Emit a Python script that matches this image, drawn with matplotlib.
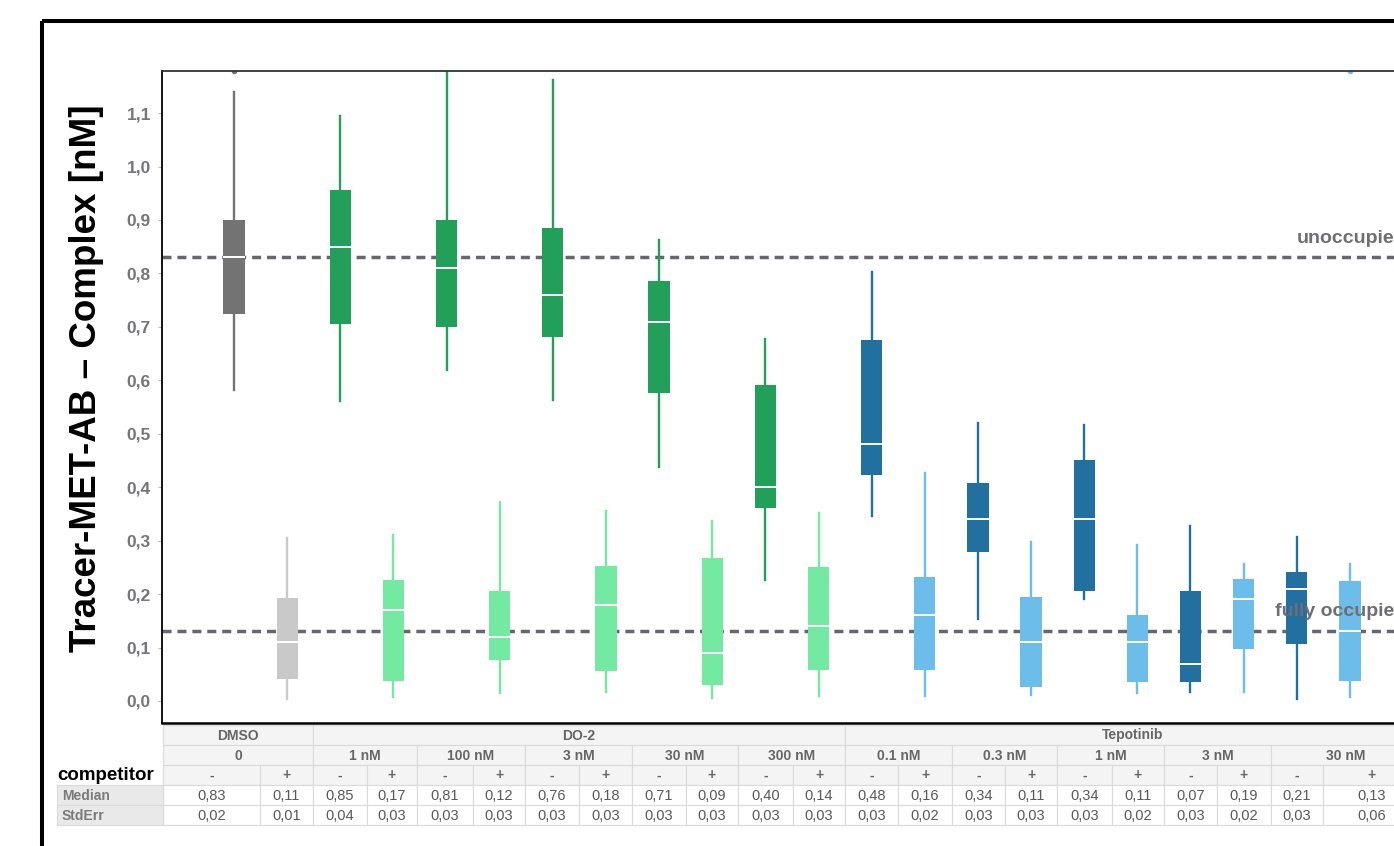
import matplotlib.pyplot as plt
from matplotlib.patches import Rectangle

plt.rcParams['font.family'] = ['Liberation Sans', 'DejaVu Sans']

# table header data
compounds = ['DMSO', 'DO-2', 'Tepotinib']
compound_cols = [2, 10, 10]
concentrations = ['0', '1 nM', '100 nM', '3 nM', '30 nM', '300 nM',
                  '0.1 nM', '0.3 nM', '1 nM', '3 nM', '30 nM']
competitor = ['-', '+'] * 11

# box statistics per condition (nM), '-' / '+' competitor alternating
whisker_low = [0.582, 0.004, 0.561, 0.007, 0.619, 0.015, 0.563, 0.017, 0.438, 0.006, 0.226, 0.009,
               0.346, 0.009, 0.153, 0.011, 0.191, 0.015, 0.017, 0.017, 0.004, 0.007]
q1 = [0.724, 0.041, 0.705, 0.037, 0.700, 0.077, 0.681, 0.056, 0.576, 0.030, 0.361, 0.058,
      0.423, 0.058, 0.279, 0.026, 0.206, 0.036, 0.036, 0.097, 0.107, 0.037]
median = [0.83, 0.11, 0.85, 0.17, 0.81, 0.12, 0.76, 0.18, 0.71, 0.09, 0.40, 0.14,
          0.48, 0.16, 0.34, 0.11, 0.34, 0.11, 0.07, 0.19, 0.21, 0.13]
q3 = [0.900, 0.193, 0.956, 0.226, 0.900, 0.206, 0.885, 0.253, 0.786, 0.268, 0.591, 0.251,
      0.675, 0.232, 0.408, 0.195, 0.451, 0.161, 0.206, 0.228, 0.241, 0.225]
whisker_high = [1.139, 0.305, 1.094, 0.311, 1.195, 0.372, 1.162, 0.355, 0.862, 0.337, 0.677, 0.352,
                0.803, 0.427, 0.520, 0.297, 0.516, 0.292, 0.327, 0.256, 0.307, 0.256]
outliers = {0: [1.178], 21: [1.178]}
stderr = [0.02, 0.01, 0.04, 0.03, 0.03, 0.03, 0.03, 0.03, 0.03, 0.03, 0.03, 0.03,
          0.03, 0.02, 0.03, 0.03, 0.03, 0.02, 0.03, 0.02, 0.03, 0.06]

unoccupied = 0.83
fully_occupied = 0.13

palette = {'DMSO': ('#737373', '#c9c9c9'),
           'DO-2': ('#22a05a', '#73e9a2'),
           'Tepotinib': ('#22709f', '#6dbdeb')}
colors = []
for name, n in zip(compounds, compound_cols):
    for k in range(n):
        colors.append(palette[name][k % 2])

W, H = 1394, 846
fig = plt.figure(figsize=(W / 100, H / 100), dpi=100)

def px(x0, y0, x1, y1):
    return [x0 / W, 1 - y1 / H, (x1 - x0) / W, (y1 - y0) / H]

ax = fig.add_axes(px(162, 71, 1394, 723))

stats = []
for i in range(len(median)):
    stats.append(dict(whislo=whisker_low[i], q1=q1[i], med=median[i], q3=q3[i],
                      whishi=whisker_high[i], fliers=outliers.get(i, [])))
bp = ax.bxp(stats, positions=range(len(stats)), widths=0.4, patch_artist=True,
            showcaps=False, manage_ticks=False,
            boxprops=dict(linewidth=0),
            medianprops=dict(color='white', linewidth=1.4),
            whiskerprops=dict(linewidth=1.7),
            flierprops=dict(marker='o', markersize=4, markeredgewidth=0))
for i, c in enumerate(colors):
    bp['boxes'][i].set_facecolor(c)
    bp['boxes'][i].set_zorder(3)
    bp['medians'][i].set_zorder(4)
    for w in bp['whiskers'][2 * i:2 * i + 2]:
        w.set_color(c)
        w.set_zorder(2)
    bp['fliers'][i].set_markerfacecolor(c)

for yv in (unoccupied, fully_occupied):
    ax.axhline(yv, color='#66666e', lw=2.5, ls=(0, (2.6, 1.7)), zorder=1)
ax.text(20.0, 0.866, 'unoccupied', color='#6e6e73', fontsize=14, fontweight='bold',
        va='center', ha='left', zorder=6)
ax.text(19.59, 0.1665, 'fully occupied', color='#6e6e73', fontsize=14, fontweight='bold',
        va='center', ha='left', zorder=6)

ax.set_xlim(-1.355, 21.83)
ax.set_ylim(-0.0412, 1.1787)
ax.set_xticks([])
yt = [i / 10 for i in range(12)]
ax.set_yticks(yt)
ax.set_yticklabels([f'{v:.1f}'.replace('.', ',') for v in yt],
                   fontsize=12.5, fontweight='bold', color='#75757a')
ax.tick_params(axis='y', length=3, width=0.8, color='#bbbbbb', pad=5)
ax.spines['right'].set_visible(False)
ax.spines['top'].set_color('#333333')
ax.spines['top'].set_linewidth(1.3)
ax.spines['left'].set_linewidth(1.3)
ax.spines['bottom'].set_linewidth(1.8)

fig.text(87 / W, 1 - 378 / H, 'Tracer-MET-AB \u2013 Complex [nM]', rotation=90,
         fontsize=26.5, fontweight='bold', ha='center', va='center')

# overlay in pixel units: outer frame and the summary table
ov = fig.add_axes([0, 0, 1, 1])
ov.set_xlim(0, W)
ov.set_ylim(H, 0)
ov.axis('off')
ov.add_patch(Rectangle((42, 21.5), 1500, 900, fill=False, lw=2.9, ec='black'))

edges = [163, 260, 313, 367, 417, 473, 525, 579, 632, 686, 738, 793, 845, 898,
         952, 1005, 1057, 1112, 1164, 1217, 1271, 1323, 1421]
rows = [725, 745, 765, 785, 805, 825]
grid = '#dadada'
hdr_bg = '#f4f4f4'

def cell(x0, x1, y0, y1, text, bg, color='#666666', size=10.5, weight='normal'):
    ov.add_patch(Rectangle((x0, y0), x1 - x0, y1 - y0, fc=bg, ec=grid, lw=0.8))
    ov.text((x0 + x1) / 2, (y0 + y1) / 2 + 0.5, text, ha='center', va='center',
            fontsize=size, color=color, fontweight=weight)

c = 0
for name, n in zip(compounds, compound_cols):
    cell(edges[c], edges[c + n], rows[0], rows[1], name, hdr_bg, weight='bold', size=10)
    c += n
for j, conc in enumerate(concentrations):
    cell(edges[2 * j], edges[2 * j + 2], rows[1], rows[2], conc, hdr_bg, weight='bold', size=10)
for j, s in enumerate(competitor):
    cell(edges[j], edges[j + 1], rows[2], rows[3], s, hdr_bg, weight='bold', size=10)
    cell(edges[j], edges[j + 1], rows[3], rows[4], f'{median[j]:.2f}'.replace('.', ','),
         'white', color='#595959')
    cell(edges[j], edges[j + 1], rows[4], rows[5], f'{stderr[j]:.2f}'.replace('.', ','),
         'white', color='#595959')

for k, lab in enumerate(['Median', 'StdErr']):
    y0 = rows[3 + k]
    ov.add_patch(Rectangle((57, y0), 163 - 57, 20, fc='#e9e9e9', ec=grid, lw=0.8))
    ov.text(62, y0 + 10.5, lab, ha='left', va='center', fontsize=10,
            color='#7a7a7a', fontweight='bold')
ov.text(57, 775, 'competitor', ha='left', va='center', fontsize=13.5, fontweight='bold')

fig.savefig('out.png', dpi=100)
